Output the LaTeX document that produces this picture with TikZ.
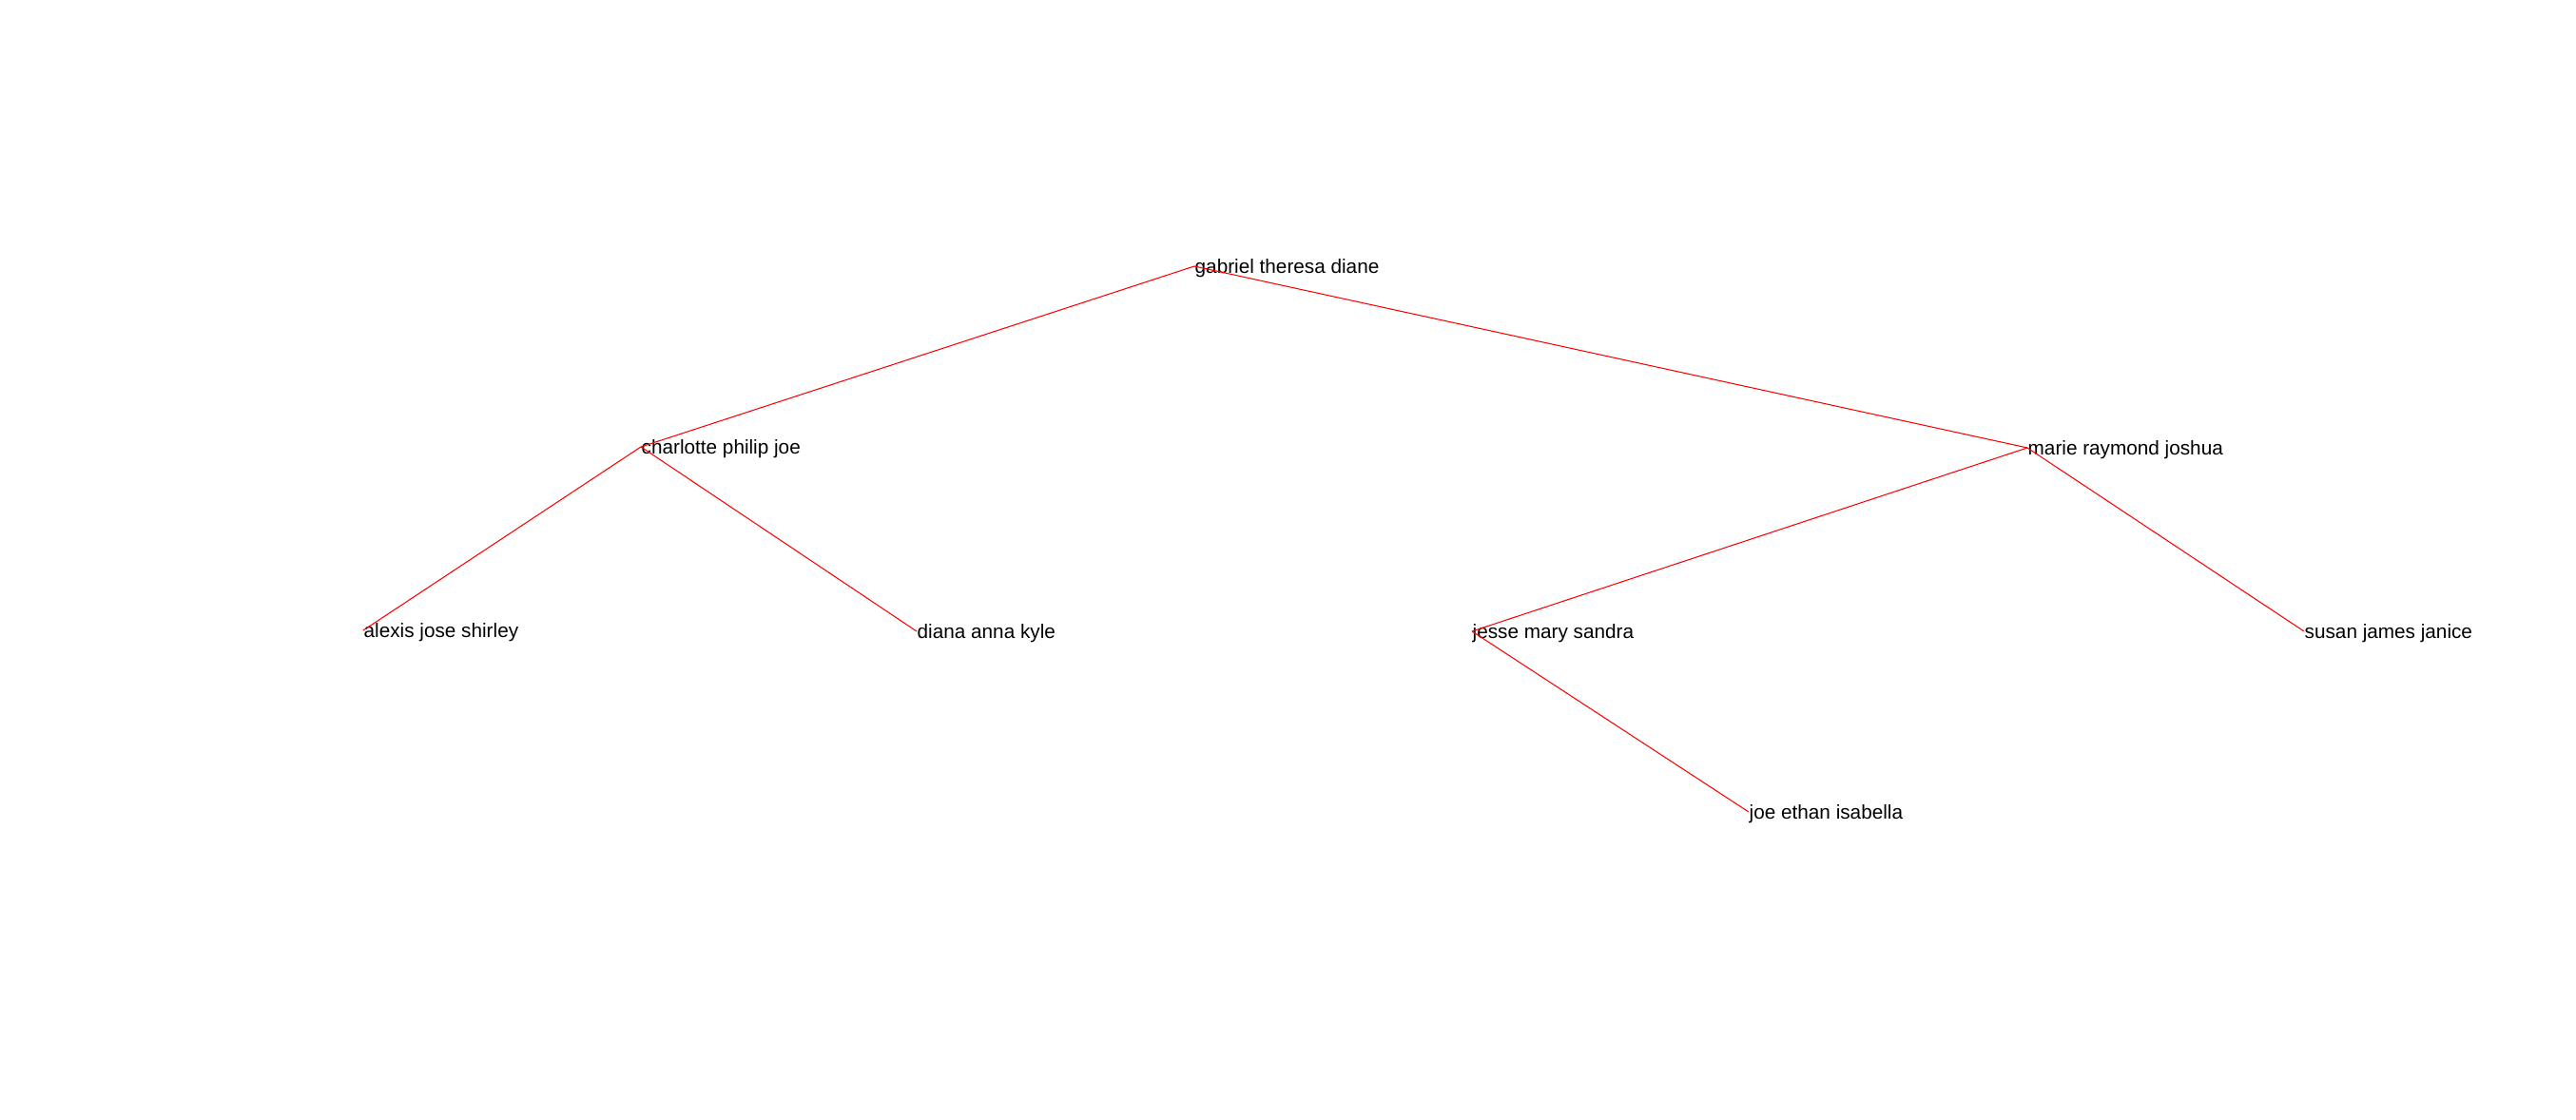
\documentclass[tikz,border=0pt]{standalone}
\usepackage{fontspec}
\setmainfont{Liberation Sans}
\begin{document}
\begin{tikzpicture}[scale=1,
    person/.style={anchor=west,inner sep=0pt,text height=0.15cm,text depth=0cm,font=\fontsize{5.9}{7}\selectfont},
    tie/.style={red,line width=0.3pt}]
                \useasboundingbox (0,0) rectangle (27.09,-11.78);
                \node[person] (gtd) at (12.56,-2.80) {gabriel theresa diane};
                \node[person] (cpj) at (6.74,-4.70) {charlotte philip joe};
                \node[person] (mrj) at (21.32,-4.71) {marie raymond joshua};
                \node[person] (ajs) at (3.82,-6.63) {alexis jose shirley};
                \node[person] (dak) at (9.64,-6.64) {diana anna kyle};
                \node[person] (jms) at (15.48,-6.64) {jesse mary sandra};
                \node[person] (sjj) at (24.23,-6.64) {susan james janice};
                \node[person] (jei) at (18.39,-8.54) {joe ethan isabella};
                \draw[tie] (gtd.west)--(cpj.west);
                \draw[tie] (gtd.west)--(mrj.west);
                \draw[tie] (cpj.west)--(ajs.west);
                \draw[tie] (cpj.west)--(dak.west);
                \draw[tie] (mrj.west)--(jms.west);
                \draw[tie] (mrj.west)--(sjj.west);
                \draw[tie] (jms.west)--(jei.west);
            \end{tikzpicture}
\end{document}
